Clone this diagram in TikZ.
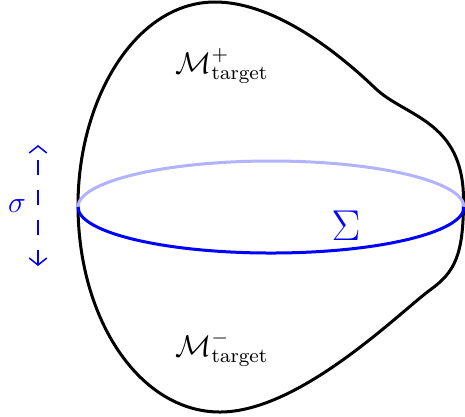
\documentclass[tikz,border=0pt]{standalone}
\usetikzlibrary{arrows.meta}
\begin{document}
\begin{tikzpicture}[x=0.4pt,y=-0.4pt,
  outline/.style={line width=1.2pt,black},
  backring/.style={line width=1.2pt,blue!30},
  frontring/.style={line width=1.2pt,blue},
  sigarrow/.style={blue,line width=0.6pt,dash pattern=on 6pt off 6pt,dash phase=0.4pt,
    {Straight Barb[length=2.8pt,width=7pt]}-{Straight Barb[length=2.8pt,width=7pt]}},
  lbl/.style={inner sep=0pt}]
\useasboundingbox (0,0) rectangle (465,416);
\draw[outline] (78,205) .. controls (78,100) and (135,2) .. (215,2)
  .. controls (270,2) and (330,45) .. (375,88)
  .. controls (405,117) and (463.5,120) .. (463.5,200)
  .. controls (463.5,255) and (455,272) .. (430,290)
  .. controls (400,312) and (300,412) .. (220,412)
  .. controls (140,412) and (78,320) .. (78,205) -- cycle;
\draw[backring] (78,207) arc[start angle=180,end angle=360,x radius=193,y radius=46];
\draw[frontring] (78,207) arc[start angle=180,end angle=0,x radius=193,y radius=46];
\coordinate (atop) at (38,145);
\coordinate (abot) at (38,266);
\draw[sigarrow] (abot) -- (atop);
\node[lbl,blue] (sig) at (17,206) {\large$\sigma$};
\node[lbl,blue] (Sig) at (346,226) {\LARGE$\Sigma$};
\node[lbl] (mp) at (222,66) {\large$\mathcal{M}^+_{\mathrm{target}}$};
\node[lbl] (mm) at (222,349) {\large$\mathcal{M}^-_{\mathrm{target}}$};
\end{tikzpicture}
\end{document}
